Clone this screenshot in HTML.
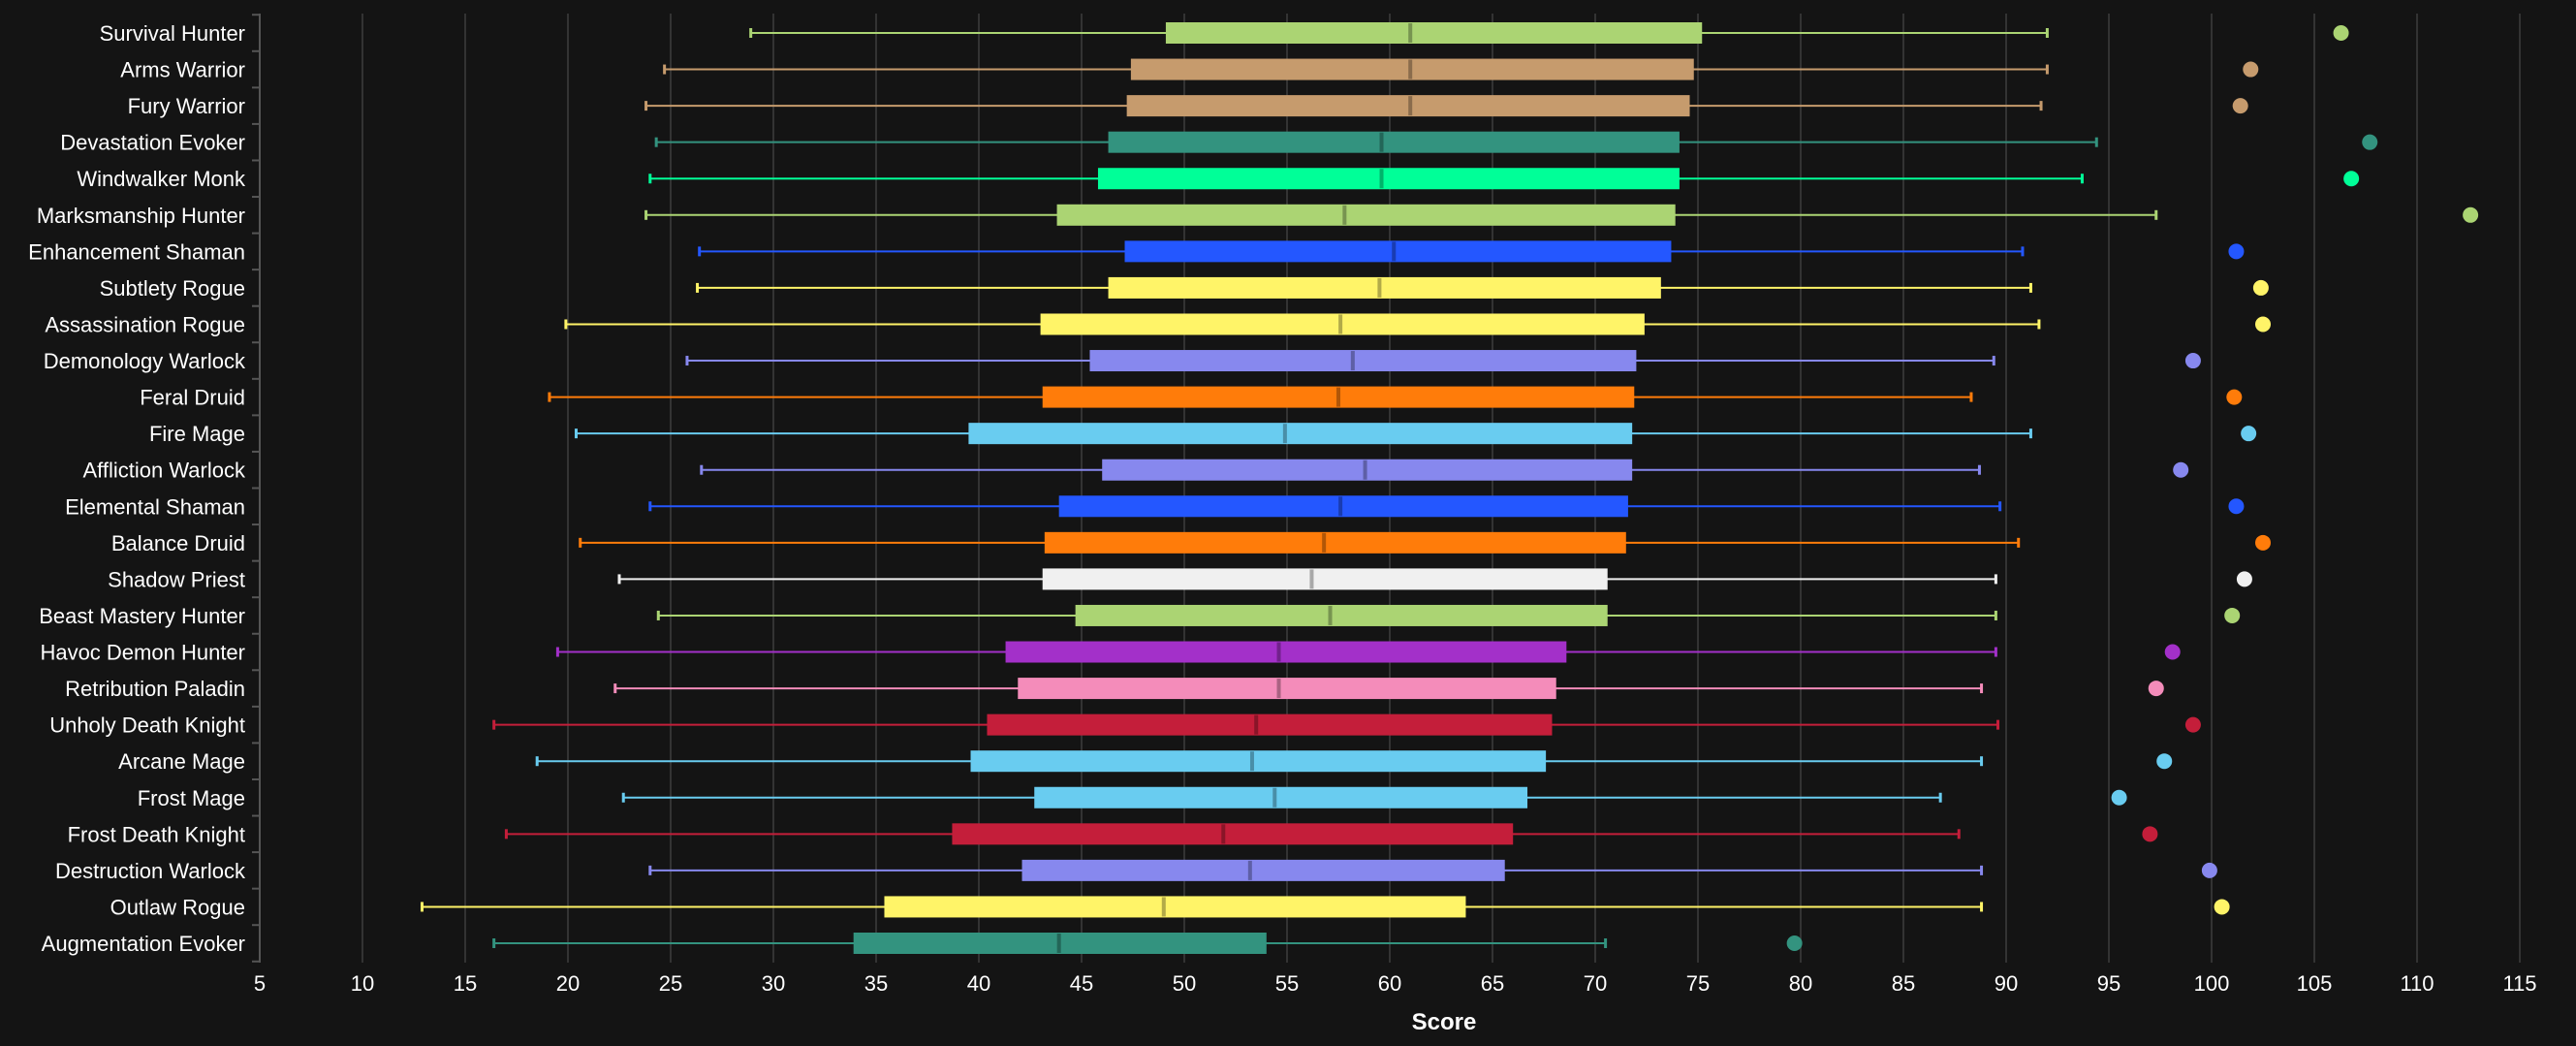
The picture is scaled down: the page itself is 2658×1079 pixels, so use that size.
<!DOCTYPE html>
<html><head><meta charset="utf-8"><style>
html,body{margin:0;padding:0;background:#141414;}
svg{display:block;font-family:"Liberation Sans",sans-serif;}
</style></head><body>
<svg id="chart" width="2658" height="1079" viewBox="0 0 2658 1079" xmlns="http://www.w3.org/2000/svg">
<rect width="2658" height="1079" fill="#141414"/>
<g id="grid"></g>
<g id="boxes"></g>
<g id="ylabels"></g>
<g id="xlabels"></g>
<text x="1490" y="1062" text-anchor="middle" fill="#fff" font-size="24" font-weight="bold">Score</text>
</svg>
<script>
const specs=["Survival Hunter","Arms Warrior","Fury Warrior","Devastation Evoker","Windwalker Monk","Marksmanship Hunter","Enhancement Shaman","Subtlety Rogue","Assassination Rogue","Demonology Warlock","Feral Druid","Fire Mage","Affliction Warlock","Elemental Shaman","Balance Druid","Shadow Priest","Beast Mastery Hunter","Havoc Demon Hunter","Retribution Paladin","Unholy Death Knight","Arcane Mage","Frost Mage","Frost Death Knight","Destruction Warlock","Outlaw Rogue","Augmentation Evoker"];
const lows=[28.9,24.7,23.8,24.3,24.0,23.8,26.4,26.3,19.9,25.8,19.1,20.4,26.5,24.0,20.6,22.5,24.4,19.5,22.3,16.4,18.5,22.7,17.0,24.0,12.9,16.4];
const q1s=[49.1,47.4,47.2,46.3,45.8,43.8,47.1,46.3,43.0,45.4,43.1,39.5,46.0,43.9,43.2,43.1,44.7,41.3,41.9,40.4,39.6,42.7,38.7,42.1,35.4,33.9];
const medians=[61.0,61.0,61.0,59.6,59.6,57.8,60.2,59.5,57.6,58.2,57.5,54.9,58.8,57.6,56.8,56.2,57.1,54.6,54.6,53.5,53.3,54.4,51.9,53.2,49.0,43.9];
const q3s=[75.2,74.8,74.6,74.1,74.1,73.9,73.7,73.2,72.4,72.0,71.9,71.8,71.8,71.6,71.5,70.6,70.6,68.6,68.1,67.9,67.6,66.7,66.0,65.6,63.7,54.0];
const highs=[92.0,92.0,91.7,94.4,93.7,97.3,90.8,91.2,91.6,89.4,88.3,91.2,88.7,89.7,90.6,89.5,89.5,89.5,88.8,89.6,88.8,86.8,87.7,88.8,88.8,70.5];
const maxes=[106.3,101.9,101.4,107.7,106.8,112.6,101.2,102.4,102.5,99.1,101.1,101.8,98.5,101.2,102.5,101.6,101.0,98.1,97.3,99.1,97.7,95.5,97.0,99.9,100.5,79.7];
const ticks=[5,10,15,20,25,30,35,40,45,50,55,60,65,70,75,80,85,90,95,100,105,110,115];
const colors=["#abd473","#c69b6d","#c69b6d","#33937f","#00ff98","#abd473","#2457ff","#fff468","#fff468","#8788ee","#ff7c0a","#69ccf0","#8788ee","#2457ff","#ff7c0a","#f0f0f0","#abd473","#a330c9","#f48cba","#c41e3a","#69ccf0","#69ccf0","#c41e3a","#8788ee","#fff468","#33937f"];
const NS="http://www.w3.org/2000/svg";
const X0=268,XPER=21.2,Y0=34,ROW=37.56,TOP=14,BOT=993,RIGHT=2625;
const xs=v=>X0+(v-5)*XPER;
const ys=i=>Y0+i*ROW;
function mk(tag,attrs,parent){const e=document.createElementNS(NS,tag);for(const k in attrs)e.setAttribute(k,attrs[k]);parent.appendChild(e);return e;}
function darker(c){const n=parseInt(c.slice(1),16);const r=(n>>16)*0.7|0,g=((n>>8)&255)*0.7|0,b=(n&255)*0.7|0;return `rgb(${r},${g},${b})`;}
const grid=document.getElementById('grid'),xl=document.getElementById('xlabels');
ticks.forEach(t=>{
  const l=mk('line',{x1:xs(t),x2:xs(t),y1:TOP,y2:BOT,stroke:t===5?'#555':'#333','stroke-width':2},grid);
  
  
  const tx=mk('text',{x:xs(t),y:1022,'text-anchor':'middle',fill:'#fff','font-size':22},xl);
  tx.textContent=t;
  
  
});
for(let i=0;i<=specs.length;i++){
  const tk=mk('line',{x1:260,x2:268,y1:Y0+(i-0.5)*ROW,y2:Y0+(i-0.5)*ROW,stroke:'#555','stroke-width':2},grid);
  
  
}
const bx=document.getElementById('boxes'),yl=document.getElementById('ylabels');
specs.forEach((s,i)=>{
  const y=ys(i),c=colors[i];
  const g=mk('g',{},bx);
  
  
  mk('line',{x1:xs(lows[i]),x2:xs(highs[i]),y1:y,y2:y,stroke:c,'stroke-width':2},g);
  mk('line',{x1:xs(lows[i]),x2:xs(lows[i]),y1:y-5,y2:y+5,stroke:c,'stroke-width':3},g);
  mk('line',{x1:xs(highs[i]),x2:xs(highs[i]),y1:y-5,y2:y+5,stroke:c,'stroke-width':3},g);
  mk('rect',{x:xs(q1s[i]),y:y-11,width:xs(q3s[i])-xs(q1s[i]),height:22,fill:c},g);
  mk('line',{x1:xs(medians[i]),x2:xs(medians[i]),y1:y-10,y2:y+10,stroke:darker(c),'stroke-width':4},g);
  const d=mk('circle',{cx:xs(maxes[i]),cy:y,r:8,fill:c},bx);
  
  
  const t=mk('text',{x:253,y:y+8,'text-anchor':'end',fill:'#fff','font-size':22},yl);
  t.textContent=s;
  
  
});
</script>
</body></html>
